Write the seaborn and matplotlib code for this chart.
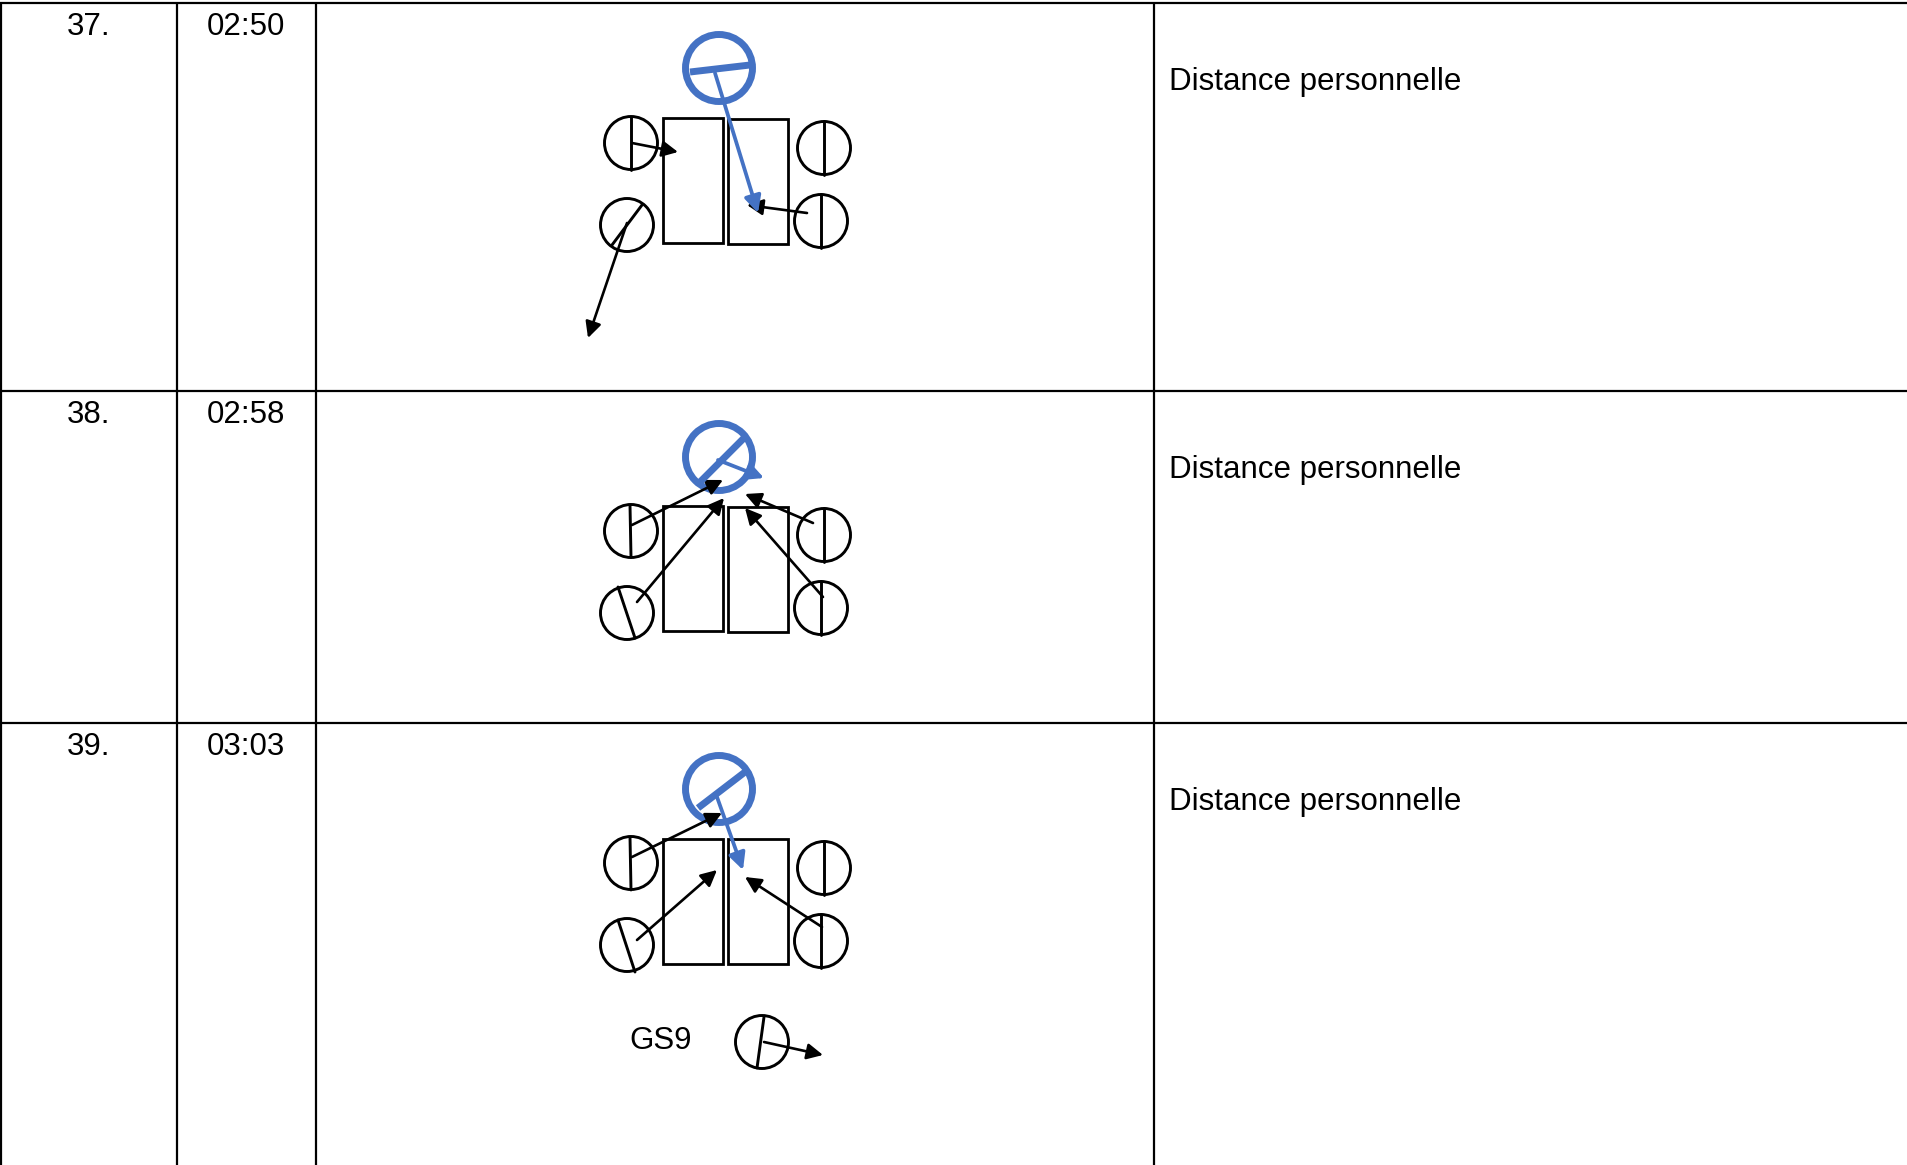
import numpy as np
import matplotlib
matplotlib.use('Agg')
import matplotlib.pyplot as plt
import seaborn as sns
from matplotlib.patches import Circle, Rectangle, FancyArrowPatch

# Table contents
row_numbers = ['37.', '38.', '39.']
row_times = ['02:50', '02:58', '03:03']
row_notes = ['Distance personnelle', 'Distance personnelle', 'Distance personnelle']

# Table grid (pixel coordinates, y downwards)
col_lines = [1, 177, 316, 1154]
row_lines = [3, 391, 723]

# Diagram elements per row: seats (circles) as (x, y, line x0, y0, x1, y1)
seats = [
    [(631, 143, 631, 117, 631, 170), (824, 148, 824, 121, 824, 175),
     (627, 225, 642, 205, 612, 245), (821, 221, 821, 194, 821, 248)],
    [(631, 531, 630, 505, 631, 557), (824, 535, 824, 508, 824, 562),
     (627, 613, 618, 587, 635, 638), (821, 608, 821, 581, 821, 635)],
    [(631, 863, 630, 837, 631, 890), (824, 868, 824, 841, 824, 895),
     (627, 945, 618, 920, 635, 972), (821, 941, 821, 914, 821, 968),
     (762, 1042, 764, 1017, 757, 1068)],
]
# speaker (blue) circle: (x, y, line x0, y0, x1, y1)
speakers = [
    (719, 68, 690, 72, 750, 65),
    (719, 457, 700, 482, 745, 437),
    (719, 789, 698, 808, 745, 772),
]
# tables (two per row): (x, y, w, h)
tables = [
    [(663, 118, 60, 125), (728, 119, 60, 125)],
    [(663, 506, 60, 125), (728, 507, 60, 125)],
    [(663, 839, 60, 125), (728, 839, 60, 125)],
]
black_arrows = [
    [(632, 143, 678, 152), (627, 223, 588, 338), (807, 213, 747, 205)],
    [(632, 525, 723, 480), (637, 602, 724, 498), (813, 523, 745, 494), (823, 597, 745, 508)],
    [(632, 857, 722, 813), (637, 940, 717, 870), (822, 927, 745, 877), (764, 1042, 823, 1055)],
]
blue_arrows = [
    [(715, 73, 758, 213)],
    [(718, 460, 764, 478)],
    [(717, 797, 743, 870)],
]
extra_labels = [(661, 1049, 'GS9')]

sns.set_style('white')
plt.rcParams['font.family'] = ['Liberation Sans', 'DejaVu Sans']

W, H = 1908, 1165
fig = plt.figure(figsize=(W / 100, H / 100), dpi=100)
ax = fig.add_axes([0, 0, 1, 1])
ax.set_xlim(0, W)
ax.set_ylim(H, 0)
ax.axis('off')

# grid
for x in col_lines:
    ax.plot([x, x], [row_lines[0], H], color='black', lw=1.6, solid_capstyle='butt')
for y in row_lines:
    ax.plot([0, W], [y, y], color='black', lw=1.6, solid_capstyle='butt')

blue = '#4472C4'
fs = 22.5
for i in range(3):
    top = row_lines[i]
    ax.text(89, top + 32, row_numbers[i], ha='center', va='baseline', fontsize=fs, color='black')
    ax.text(246, top + 32, row_times[i], ha='center', va='baseline', fontsize=fs, color='black')
    ax.text(1169, top + 87, row_notes[i], ha='left', va='baseline', fontsize=fs, color='black')

    for (x, y, w, h) in tables[i]:
        ax.add_patch(Rectangle((x, y), w, h, fill=False, ec='black', lw=2))
    for (cx, cy, x0, y0, x1, y1) in seats[i]:
        ax.add_patch(Circle((cx, cy), 26.5, fill=False, ec='black', lw=2.1))
        ax.plot([x0, x1], [y0, y1], color='black', lw=2.1)
    cx, cy, x0, y0, x1, y1 = speakers[i]
    ax.add_patch(Circle((cx, cy), 33.5, fill=False, ec=blue, lw=5))
    ax.plot([x0, x1], [y0, y1], color=blue, lw=5, solid_capstyle='butt')
    for (x0, y0, x1, y1) in black_arrows[i]:
        ax.add_patch(FancyArrowPatch((x0, y0), (x1, y1), arrowstyle='-|>',
                                     mutation_scale=24, color='black', lw=1.9,
                                     shrinkA=0, shrinkB=0))
    for (x0, y0, x1, y1) in blue_arrows[i]:
        ax.add_patch(FancyArrowPatch((x0, y0), (x1, y1), arrowstyle='-|>',
                                     mutation_scale=25, color=blue, lw=2.7,
                                     shrinkA=0, shrinkB=0))

for (x, y, s) in extra_labels:
    ax.text(x, y, s, ha='center', va='baseline', fontsize=fs, color='black')

fig.savefig('out.png', dpi=100, facecolor='white')
